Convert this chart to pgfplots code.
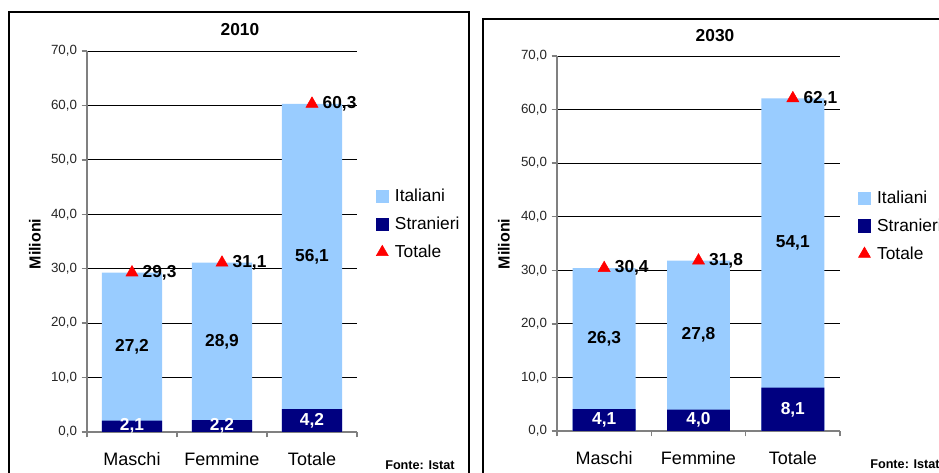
\documentclass[border=0pt]{standalone}
\usepackage{fontspec}
\setmainfont{Liberation Sans}
\usepackage{pgfplots}
\pgfplotsset{compat=1.18}
\definecolor{ita}{HTML}{99CCFF}
\definecolor{str}{HTML}{000080}
\definecolor{tot}{HTML}{FF0000}
\definecolor{axgray}{HTML}{808080}

\pgfplotsset{
  /pgf/number format/.cd, fixed, fixed zerofill, precision=1, use comma, assume math mode=true,
  /pgfplots/.cd,
  panel/.style={
    scale only axis, anchor=south west,
    xmin=-0.5, xmax=2.5, ymin=0, ymax=70,
    axis x line*=bottom, axis y line*=left,
    axis line style={draw=axgray, line width=1.3pt},
    every tick/.style={draw=axgray, line width=1pt},
    tick align=outside, major tick length=4pt,
    ytick={0,10,...,70},
    yticklabel style={font=\fontsize{10}{12}\selectfont, text=black!85},
    ymajorgrids, major grid style={draw=black, line width=0.7pt},
    xtick={-0.5,0.5,1.5,2.5}, xticklabels={},
    extra x ticks={0,1,2},
    extra x tick labels={Maschi,Femmine,Totale},
    extra x tick style={major tick length=0pt, tick label style={font=\fontsize{13.5}{16}\selectfont, text=black, yshift=-12pt}},
    legend style={draw=none, fill=none, anchor=north west, font=\fontsize{13}{15}\selectfont, row sep=6pt, column sep=2.5pt, inner sep=0pt},
    legend cell align=left,
    clip=false,
  },
  barplot/.style={ybar, bar width=0.667, bar shift=0pt, draw=none, fill=#1,
     legend image code/.code={\fill[##1,/tikz/.cd] (0pt,-5pt) rectangle (10pt,5pt);}},
  totplot/.style={only marks, mark=triangle*, mark size=5.2pt, color=tot,
     legend image code/.code={\draw[##1,/tikz/.cd, only marks] plot coordinates {(5pt,0pt)};},
     nodes near coords,
     every node near coord/.append style={anchor=west, xshift=4.5pt, yshift=0pt, text=black, font=\bfseries\fontsize{13}{15}\selectfont}},
  labplot/.style={forget plot, draw=none, mark=none, point meta=explicit,
     nodes near coords,
     every node near coord/.append style={anchor=center, text=#1, font=\bfseries\fontsize{13}{15}\selectfont}},
}

\begin{document}
\begin{tikzpicture}[x=0.75pt,y=0.75pt]
\useasboundingbox (0,0) rectangle (939,473);
\coordinate (P1) at (87,41);
\coordinate (P2) at (557,42);
\begin{scope}
\clip (0,0) rectangle (939,473);
\fill[white] (0,0) rectangle (939,473);
% panel borders
\draw[black, line width=1.1pt] (9,-20) rectangle (469,461);
\draw[black, line width=1.1pt] (483,-20) rectangle (980,454);

% ---------- 2010 ----------
\begin{axis}[panel, at={(P1)}, width=202.5pt, height=285.75pt,
  legend style={at={(1.068,0.645)}}]
\addplot[barplot=ita] coordinates {(0,29.3) (1,31.1) (2,60.3)};
\addlegendentry{Italiani}
\addplot[barplot=str] coordinates {(0,2.1) (1,2.2) (2,4.2)};
\addlegendentry{Stranieri}
\addplot[totplot] coordinates {(0,29.3) (1,31.1) (2,60.3)};
\addlegendentry{Totale}
% Italiani labels (middle of light segment)
\addplot[labplot=black] coordinates {(0,15.70) [27.2] (1,16.65) [28.9] (2,32.25) [56.1]};
% Stranieri labels
\addplot[labplot=white] coordinates {(0,1.05) [2.1] (1,1.10) [2.2] (2,2.10) [4.2]};
\end{axis}

% ---------- 2030 ----------
\begin{axis}[panel, at={(P2)}, width=212.25pt, height=281.25pt,
  legend style={at={(1.062,0.648)}}]
\addplot[barplot=ita] coordinates {(0,30.4) (1,31.8) (2,62.1)};
\addlegendentry{Italiani}
\addplot[barplot=str] coordinates {(0,4.1) (1,4.0) (2,8.1)};
\addlegendentry{Stranieri}
\addplot[totplot] coordinates {(0,30.4) (1,31.8) (2,62.1)};
\addlegendentry{Totale}
\addplot[labplot=black] coordinates {(0,17.25) [26.3] (1,17.90) [27.8] (2,35.15) [54.1]};
\addplot[labplot=white] coordinates {(0,2.05) [4.1] (1,2.00) [4.0] (2,4.05) [8.1]};
\end{axis}

% titles, axis names, source
\node[font=\bfseries\fontsize{13}{15}\selectfont] at (240,443) {2010};
\node[font=\bfseries\fontsize{13}{15}\selectfont] at (715,437) {2030};
\node[rotate=90, font=\bfseries\fontsize{12}{14}\selectfont] at (35,229) {Milioni};
\node[rotate=90, font=\bfseries\fontsize{12}{14}\selectfont] at (504,229) {Milioni};
\node[anchor=west, inner sep=0pt, font=\bfseries\fontsize{9.5}{11}\selectfont] at (385,8) {Fonte: Istat};
\node[anchor=west, inner sep=0pt, font=\bfseries\fontsize{9.5}{11}\selectfont] at (870,9) {Fonte: Istat};
\end{scope}
\end{tikzpicture}
\end{document}
